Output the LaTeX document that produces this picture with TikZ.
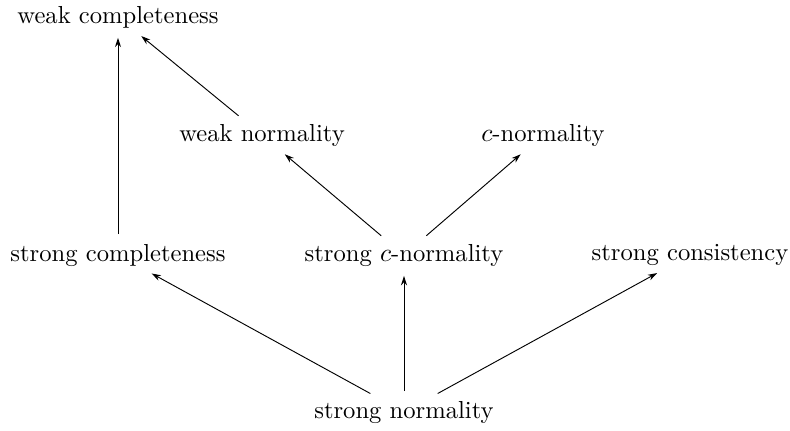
\documentclass[tikz,border=0pt]{standalone}
\usetikzlibrary{arrows.meta}
\tikzset{
  prop/.style={inner sep=2pt, font=\fontsize{10.5pt}{12pt}\selectfont},
  imp/.style={-{Stealth[length=1.4mm,width=0.9mm]}, thin, shorten <=2pt, shorten >=2pt}
}
\begin{document}
\begin{tikzpicture}[x=0.015cm,y=-0.015cm]
\useasboundingbox (0,0) rectangle (790,430);
\node[prop] (wc) at (118,17) {weak completeness};
\node[prop] (wn) at (262,135) {weak normality};
\node[prop] (cn) at (543,135) {$c$-normality};
\node[prop] (sc) at (118,255) {strong completeness};
\node[prop] (scn) at (404,255) {strong $c$-normality};
\node[prop] (scons) at (690,255) {strong consistency};
\node[prop] (sn) at (404,412) {strong normality};
% implications
\draw[imp] (sn) -- (sc);
\draw[imp] (sn) -- (scn);
\draw[imp] (sn) -- (scons);
\draw[imp] (scn) -- (wn);
\draw[imp] (scn) -- (cn);
\draw[imp] (sc) -- (wc);
\draw[imp] (wn) -- (wc);
\end{tikzpicture}
\end{document}
